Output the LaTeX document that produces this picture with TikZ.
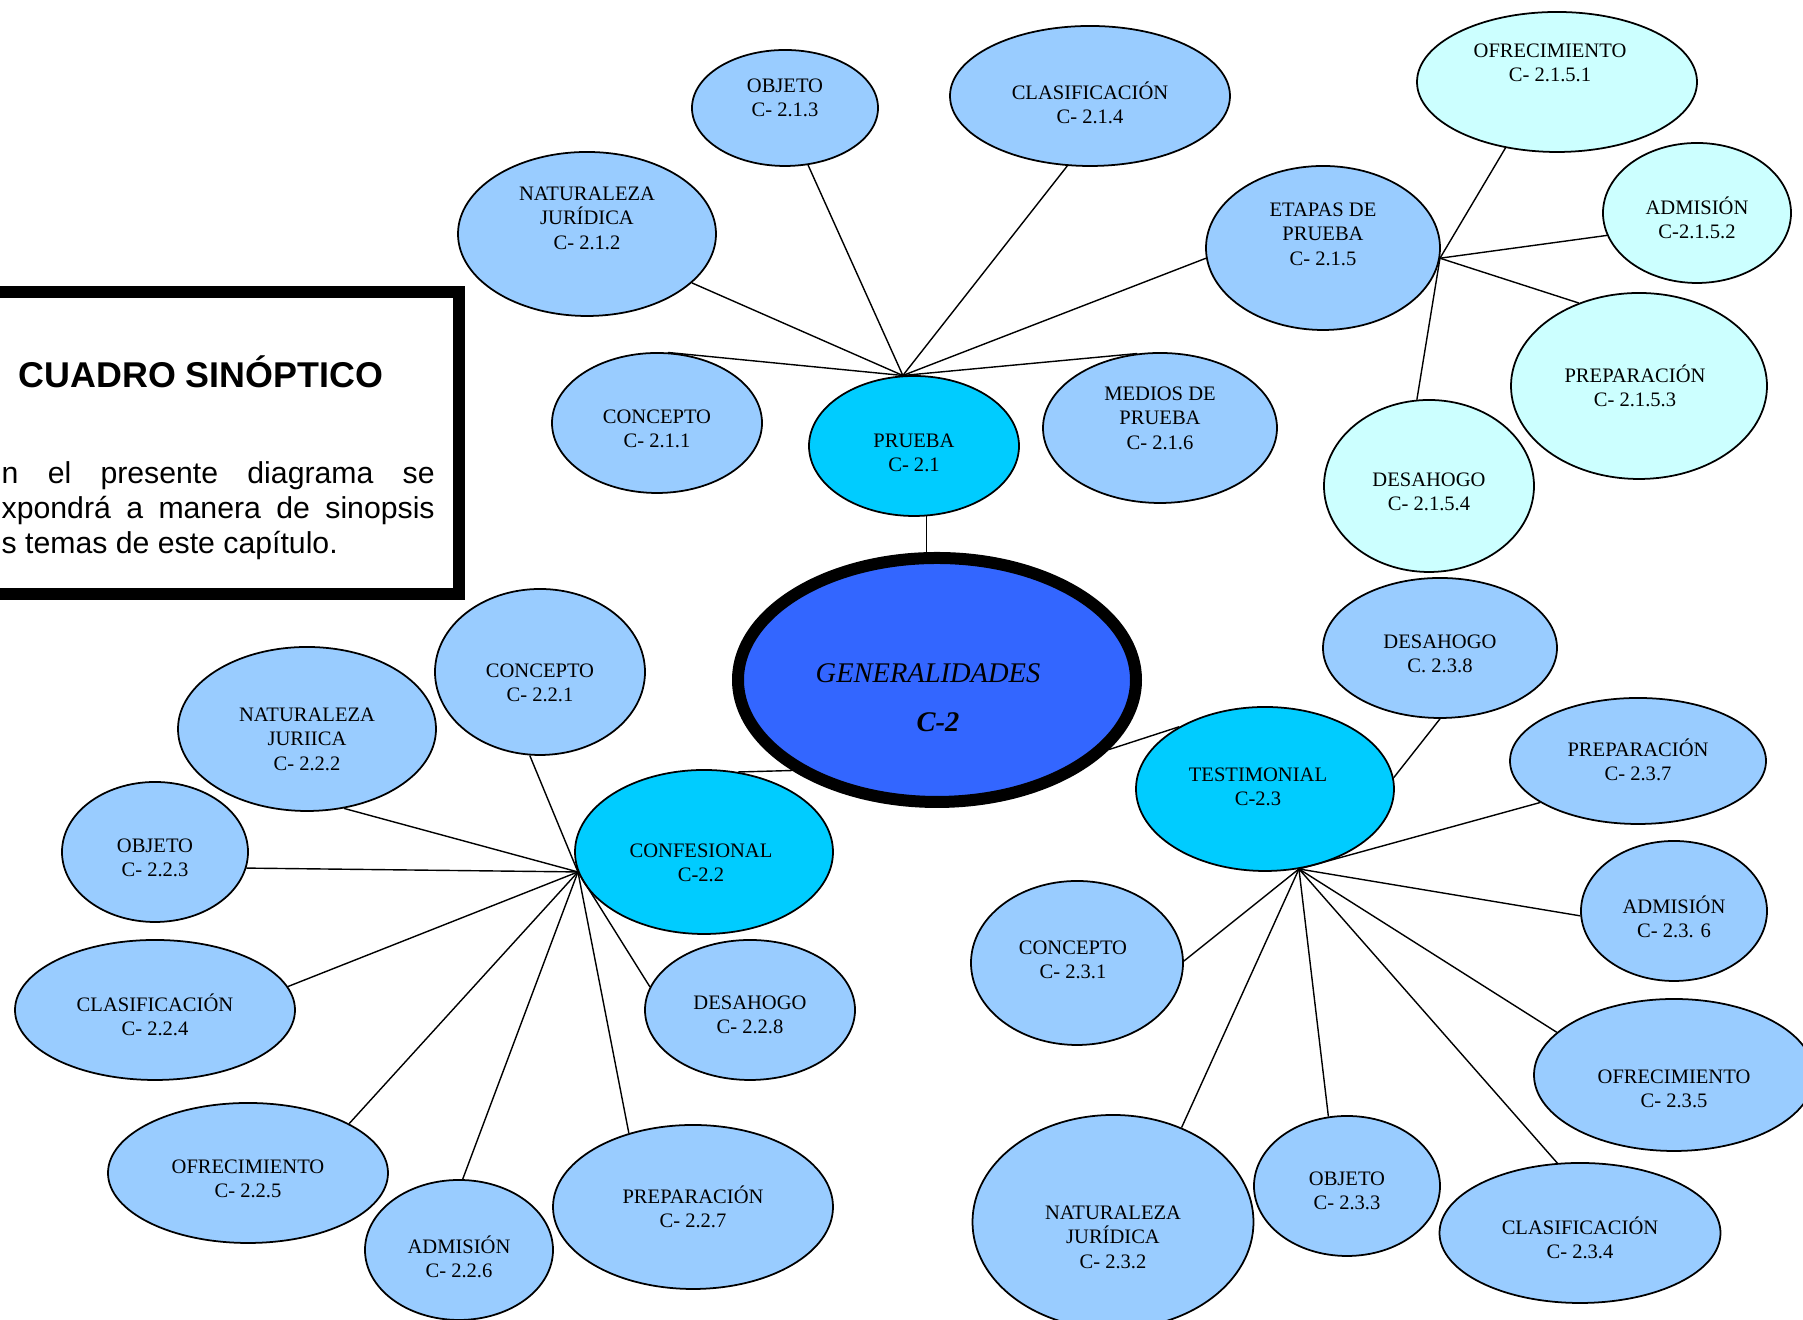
\documentclass[tikz,border=0pt]{standalone}
\usepackage{fontspec}
\setmainfont{Liberation Serif}
\newfontfamily\arial{Liberation Sans}
\usetikzlibrary{shapes.geometric}
\definecolor{hoja}{HTML}{99CCFF}
\definecolor{rama}{HTML}{00CCFF}
\definecolor{etapa}{HTML}{CCFFFF}
\definecolor{centro}{HTML}{3366FF}

\begin{document}
\begin{tikzpicture}[
    bub/.style={ellipse, draw, line width=0.5pt, inner sep=0pt},
    leaf/.style={bub, fill=hoja},
    branch/.style={bub, fill=rama},
    stage/.style={bub, fill=etapa},
    tag/.style={align=center, inner sep=0pt, font=\fontsize{5.85}{6.97}\selectfont}
  ]
  \useasboundingbox (0,0) rectangle (18.03,13.2);

  % recuadro de presentacion
  \draw[line width=0.12cm] (-0.4,10.28) rectangle (4.59,7.26);
  \node[anchor=base, inner sep=0pt, font=\arial\bfseries\fontsize{10.2}{12}\selectfont] (titulo) at (2.01,9.32) {CUADRO SINÓPTICO};
  \node[anchor=north west, inner sep=0pt, text width=4.33cm, align=justify, font=\arial\fontsize{8.6}{9.96}\selectfont] (texto) at (0.01,8.59)
    {\noindent n el presente diagrama se\linebreak xpondrá a manera de sinopsis\linebreak s temas de este capítulo.};

  % centro
  \node[bub, fill=centro, line width=0.12cm, minimum width=3.98cm, minimum height=2.44cm,
    label={[align=center, xshift=-0.09cm, yshift=-0.18cm, font=\fontsize{8.1}{13.9}\selectfont\itshape]center:{GENERALIDADES\\\hspace*{0.2cm}\textbf{C-2}}}] (gen) at (9.37,6.40) {};

  % prueba C-2.1
  \node[branch, minimum width=2.10cm, minimum height=1.40cm, label={[tag,yshift=-0.07cm]center:{PRUEBA\\C- 2.1}}] (pru) at (9.14,8.74) {};
  \node[leaf, minimum width=2.10cm, minimum height=1.40cm, label={[tag,yshift=-0.06cm]center:{CONCEPTO\\C- 2.1.1}}] (n211) at (6.57,8.97) {};
  \node[leaf, minimum width=2.58cm, minimum height=1.64cm, label={[tag,yshift=0.16cm]center:{NATURALEZA\\JURÍDICA\\C- 2.1.2}}] (n212) at (5.87,10.86) {};
  \node[leaf, minimum width=1.86cm, minimum height=1.16cm, label={[tag,yshift=0.10cm]center:{OBJETO\\C- 2.1.3}}] (n213) at (7.85,12.12) {};
  \node[leaf, minimum width=2.80cm, minimum height=1.40cm, label={[tag,yshift=-0.07cm]center:{CLASIFICACIÓN\\C- 2.1.4}}] (n214) at (10.90,12.24) {};
  \node[leaf, minimum width=2.34cm, minimum height=1.64cm, label={[tag,yshift=0.14cm]center:{ETAPAS DE\\PRUEBA\\C- 2.1.5}}] (n215) at (13.23,10.72) {};
  \node[leaf, minimum width=2.34cm, minimum height=1.50cm, label={[tag,yshift=0.10cm]center:{MEDIOS DE\\PRUEBA\\C- 2.1.6}}] (n216) at (11.60,8.92) {};
  \node[stage, minimum width=2.80cm, minimum height=1.40cm, label={[tag,xshift=-0.07cm,yshift=0.19cm]center:{OFRECIMIENTO\\C- 2.1.5.1}}] (n2151) at (15.57,12.38) {};
  \node[stage, minimum width=1.88cm, minimum height=1.40cm, label={[tag,yshift=-0.05cm]center:{ADMISIÓN\\C-2.1.5.2}}] (n2152) at (16.97,11.07) {};
  \node[stage, minimum width=2.56cm, minimum height=1.86cm, label={[tag,xshift=-0.04cm]center:{PREPARACIÓN\\C- 2.1.5.3}}] (n2153) at (16.39,9.34) {};
  \node[stage, minimum width=2.10cm, minimum height=1.72cm, label={[tag,yshift=-0.06cm]center:{DESAHOGO\\C- 2.1.5.4}}] (n2154) at (14.29,8.34) {};

  % confesional C-2.2
  \node[branch, minimum width=2.58cm, minimum height=1.64cm, label={[tag,xshift=-0.03cm,yshift=-0.11cm]center:{CONFESIONAL\\C-2.2}}] (conf) at (7.04,4.68) {};
  \node[leaf, minimum width=2.10cm, minimum height=1.66cm, label={[tag,yshift=-0.11cm]center:{CONCEPTO\\C- 2.2.1}}] (n221) at (5.40,6.48) {};
  \node[leaf, minimum width=2.58cm, minimum height=1.64cm, label={[tag,yshift=-0.10cm]center:{NATURALEZA\\JURIICA\\C- 2.2.2}}] (n222) at (3.07,5.91) {};
  \node[leaf, minimum width=1.86cm, minimum height=1.40cm, label={[tag,yshift=-0.06cm]center:{OBJETO\\C- 2.2.3}}] (n223) at (1.55,4.68) {};
  \node[leaf, minimum width=2.80cm, minimum height=1.40cm, label={[tag,yshift=-0.05cm]center:{CLASIFICACIÓN\\C- 2.2.4}}] (n224) at (1.55,3.10) {};
  \node[leaf, minimum width=2.80cm, minimum height=1.40cm, label={[tag,yshift=-0.06cm]center:{OFRECIMIENTO\\C- 2.2.5}}] (n225) at (2.48,1.47) {};
  \node[leaf, minimum width=1.88cm, minimum height=1.40cm, label={[tag,yshift=-0.07cm]center:{ADMISIÓN\\C- 2.2.6}}] (n226) at (4.59,0.70) {};
  \node[leaf, minimum width=2.80cm, minimum height=1.64cm, label={[tag]center:{PREPARACIÓN\\C- 2.2.7}}] (n227) at (6.93,1.13) {};
  \node[leaf, minimum width=2.10cm, minimum height=1.40cm, label={[tag,yshift=-0.05cm]center:{DESAHOGO\\C- 2.2.8}}] (n228) at (7.50,3.10) {};

  % testimonial C-2.3
  \node[branch, minimum width=2.58cm, minimum height=1.64cm, label={[tag,xshift=-0.07cm,yshift=0.02cm]center:{TESTIMONIAL\\C-2.3}}] (test) at (12.65,5.31) {};
  \node[leaf, minimum width=2.12cm, minimum height=1.64cm, label={[tag,xshift=-0.04cm,yshift=0.03cm]center:{CONCEPTO\\C- 2.3.1}}] (n231) at (10.77,3.57) {};
  \node[leaf, minimum width=2.81cm, minimum height=2.14cm, label={[tag,yshift=-0.15cm]center:{NATURALEZA\\JURÍDICA\\C- 2.3.2}}] (n232) at (11.13,0.98) {};
  \node[leaf, minimum width=1.86cm, minimum height=1.40cm, label={[tag,yshift=-0.05cm]center:{OBJETO\\C- 2.3.3}}] (n233) at (13.47,1.34) {};
  \node[leaf, minimum width=2.81cm, minimum height=1.40cm, label={[tag,yshift=-0.05cm]center:{CLASIFICACIÓN\\C- 2.3.4}}] (n234) at (15.80,0.87) {};
  \node[leaf, minimum width=2.80cm, minimum height=1.52cm, label={[tag,yshift=-0.14cm]center:{OFRECIMIENTO\\C- 2.3.5}}] (n235) at (16.74,2.45) {};
  \node[leaf, minimum width=1.86cm, minimum height=1.40cm, label={[tag,yshift=-0.06cm]center:{ADMISIÓN\\C- 2.3. 6}}] (n236) at (16.74,4.09) {};
  \node[leaf, minimum width=2.56cm, minimum height=1.26cm, label={[tag,yshift=0.01cm]center:{PREPARACIÓN\\C- 2.3.7}}] (n237) at (16.38,5.59) {};
  \node[leaf, minimum width=2.34cm, minimum height=1.40cm, label={[tag,yshift=-0.06cm]center:{DESAHOGO\\C. 2.3.8}}] (n238) at (14.40,6.72) {};

  % puntos de union
  \coordinate (hubP) at (pru.99);
  \coordinate (hubE) at (n215.-5);
  \coordinate (hubC) at (conf.189);
  \coordinate (hubT) at (test.-67);

  % conectores
  \draw (pru.-80) -- (pru.-80 |- gen.north);
  \draw (conf.67) -- (gen.212);
  \draw (gen.-22) -- (test.144);

  \draw (hubP) -- (n211.81);
  \draw (hubP) -- (n212.-25);
  \draw (hubP) -- (n213.-68);
  \draw (hubP) -- (n214.-108);
  \draw (hubP) -- (n215.185);
  \draw (hubP) -- (n216.107);

  \draw (hubE) -- (n2151.232);
  \draw (hubE) -- (n2152.194);
  \draw (hubE) -- (n2153.126);
  \draw (hubE) -- (n2154.98);

  \draw (hubC) -- (n221.263);
  \draw (hubC) -- (n222.-65);
  \draw (hubC) -- (n223.-10);
  \draw (hubC) -- (n224.10);
  \draw (hubC) -- (n225.26);
  \draw (hubC) -- (n226.87);
  \draw (hubC) -- (n227.131);
  \draw (hubC) -- (n228.167);

  \draw (hubT) -- (n231.1);
  \draw (hubT) -- (n232.54);
  \draw (hubT) -- (n233.105);
  \draw (hubT) -- (n234.108);
  \draw (hubT) -- (n235.160);
  \draw (hubT) -- (n236.183);
  \draw (hubT) -- (n237.203);
  \draw (test.5) -- (n238.270);
\end{tikzpicture}
\end{document}
